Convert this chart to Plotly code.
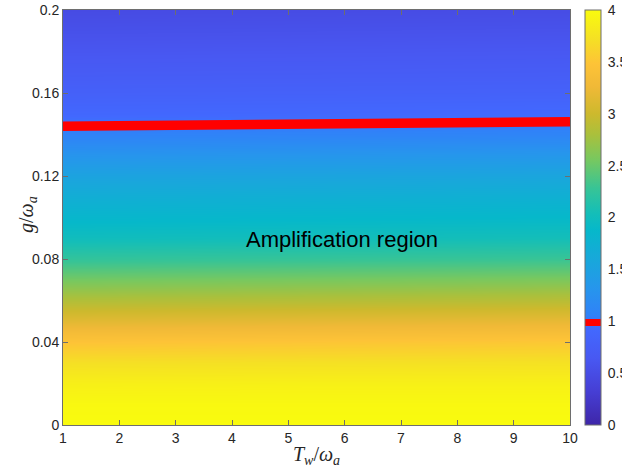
import plotly.graph_objects as go

# ---- data ----
T_cols = [1.0, 5.5, 10.0]                      # T_w / omega_a columns
g_levels = [0.00, 0.01, 0.02, 0.03, 0.04, 0.05, 0.06, 0.07, 0.08, 0.09, 0.10,
            0.11, 0.12, 0.13, 0.14, 0.15, 0.16, 0.17, 0.18, 0.19, 0.20]
z_T1 = [4.00, 3.97, 3.88, 3.72, 3.48, 3.15, 2.85, 2.55, 2.25, 2.00, 1.85,
        1.70, 1.52, 1.30, 1.07, 0.905, 0.79, 0.70, 0.62, 0.55, 0.48]
z_T55 = [4.00, 3.97, 3.89, 3.73, 3.50, 3.18, 2.87, 2.57, 2.27, 2.02, 1.87,
         1.72, 1.54, 1.32, 1.085, 0.915, 0.80, 0.71, 0.63, 0.56, 0.49]
z_T10 = [4.00, 3.97, 3.89, 3.74, 3.52, 3.20, 2.89, 2.59, 2.29, 2.04, 1.89,
         1.74, 1.56, 1.34, 1.10, 0.93, 0.81, 0.72, 0.64, 0.57, 0.50]
# threshold curve (value = 1) drawn in red
thr_T = [1.0, 10.0]
thr_g = [0.1440, 0.1461]
y_ticks = [0, 0.04, 0.08, 0.12, 0.16, 0.2]
y_ticktext = ["0", "0.04", "0.08", "0.12", "0.16", "0.2"]
x_ticks = [1, 2, 3, 4, 5, 6, 7, 8, 9, 10]
cb_ticks = [0, 0.5, 1, 1.5, 2, 2.5, 3, 3.5, 4]
cb_ticktext = ["0", "0.5", "1", "1.5", "2", "2.5", "3", "3.5", "4"]
zmin, zmax = 0.0, 4.0
red_band = (0.955, 1.025)   # values shown in red on the colour bar
label_text = "Amplification region"
label_pos = (5.95, 0.0895)

# ---- parula-like colormap ----
parula_stops = [
    (0.000, (62, 38, 168)),
    (0.080, (70, 62, 212)),
    (0.160, (72, 88, 242)),
    (0.230, (66, 104, 254)),
    (0.265, (48, 130, 248)),
    (0.330, (38, 150, 236)),
    (0.400, (24, 168, 218)),
    (0.470, (6, 184, 202)),
    (0.510, (20, 190, 184)),
    (0.570, (55, 196, 150)),
    (0.640, (120, 200, 95)),
    (0.700, (170, 192, 60)),
    (0.750, (205, 185, 45)),
    (0.815, (240, 185, 55)),
    (0.870, (253, 195, 55)),
    (0.930, (245, 224, 36)),
    (1.000, (249, 251, 14)),
]


def color_at(f):
    for (f0, c0), (f1, c1) in zip(parula_stops[:-1], parula_stops[1:]):
        if f0 <= f <= f1:
            t = (f - f0) / (f1 - f0)
            return tuple(round(a + (b - a) * t) for a, b in zip(c0, c1))
    return parula_stops[-1][1]


def rgb(c):
    return "rgb(%d,%d,%d)" % c


base_scale = [[f, rgb(c)] for f, c in parula_stops]

r0 = (red_band[0] - zmin) / (zmax - zmin)
r1 = (red_band[1] - zmin) / (zmax - zmin)
bar_scale = []
for f, c in parula_stops:
    if f < r0:
        bar_scale.append([f, rgb(c)])
bar_scale.append([r0, rgb(color_at(r0))])
bar_scale.append([r0, "rgb(255,0,0)"])
bar_scale.append([r1, "rgb(255,0,0)"])
bar_scale.append([r1, rgb(color_at(r1))])
for f, c in parula_stops:
    if f > r1:
        bar_scale.append([f, rgb(c)])

# z as rows (g) x columns (T)
z = [[a, b, c] for a, b, c in zip(z_T1, z_T55, z_T10)]

axis_color = "#6e6e6e"
tick_font = dict(family="Liberation Sans, Arial, sans-serif", size=14, color="#262626")
title_font = dict(family="Liberation Serif, DejaVu Serif, serif", size=20, color="#262626")

fig = go.Figure()
fig.add_trace(go.Heatmap(
    x=T_cols, y=g_levels, z=z,
    zmin=zmin, zmax=zmax, zsmooth="best",
    colorscale=base_scale, showscale=False,
    hoverinfo="skip",
))

# red threshold line
fig.add_trace(go.Scatter(
    x=thr_T, y=thr_g, mode="lines",
    line=dict(color="rgb(255,0,0)", width=9.5),
    hoverinfo="skip",
))

# colour bar carrier (with red band at value 1)
fig.add_trace(go.Scatter(
    x=[None], y=[None], mode="markers",
    marker=dict(
        color=[zmin], cmin=zmin, cmax=zmax, colorscale=bar_scale, showscale=True,
        colorbar=dict(
            x=(585 - 63) / 507, xanchor="left", xpad=0,
            y=0.5, yanchor="middle", len=1, lenmode="fraction", ypad=0,
            thickness=16, thicknessmode="pixels",
            outlinecolor=axis_color, outlinewidth=1,
            tickvals=cb_ticks, ticktext=cb_ticktext,
            ticks="outside", ticklen=4, tickcolor="rgba(0,0,0,0)",
            tickfont=tick_font,
        ),
    ),
    hoverinfo="skip",
))

fig.add_annotation(
    x=label_pos[0], y=label_pos[1], text=label_text, showarrow=False,
    font=dict(family="Liberation Sans, Arial, sans-serif", size=22, color="black"),
    xanchor="center", yanchor="middle",
)

# y-axis title placed like the reference (between tick labels)
fig.add_annotation(
    xref="paper", yref="paper", x=(27 - 63) / 507, y=(425 - 215) / 415,
    text="<i>g</i>/<i>ω</i><sub><i>a</i></sub>", textangle=-90, showarrow=False,
    font=title_font, xanchor="center", yanchor="middle",
)

fig.update_layout(
    width=622, height=475,
    margin=dict(l=63, r=52, t=10, b=50, autoexpand=False),
    paper_bgcolor="white", plot_bgcolor="white",
    showlegend=False,
    xaxis=dict(
        range=[1, 10], tickvals=x_ticks, ticks="inside", ticklen=5,
        tickcolor=axis_color, showline=True, linecolor=axis_color, linewidth=1,
        mirror="ticks", showgrid=False, zeroline=False, tickfont=tick_font,
        title=dict(text="<i>T</i><sub><i>w</i></sub>/<i>ω</i><sub><i>a</i></sub>",
                   font=title_font, standoff=2),
        layer="above traces",
    ),
    yaxis=dict(
        range=[0, 0.2], tickvals=y_ticks, ticktext=y_ticktext, ticks="inside", ticklen=5,
        tickcolor=axis_color, showline=True, linecolor=axis_color, linewidth=1,
        mirror="ticks", showgrid=False, zeroline=False, tickfont=tick_font,
        layer="above traces",
    ),
)

fig.write_html("out.html")
